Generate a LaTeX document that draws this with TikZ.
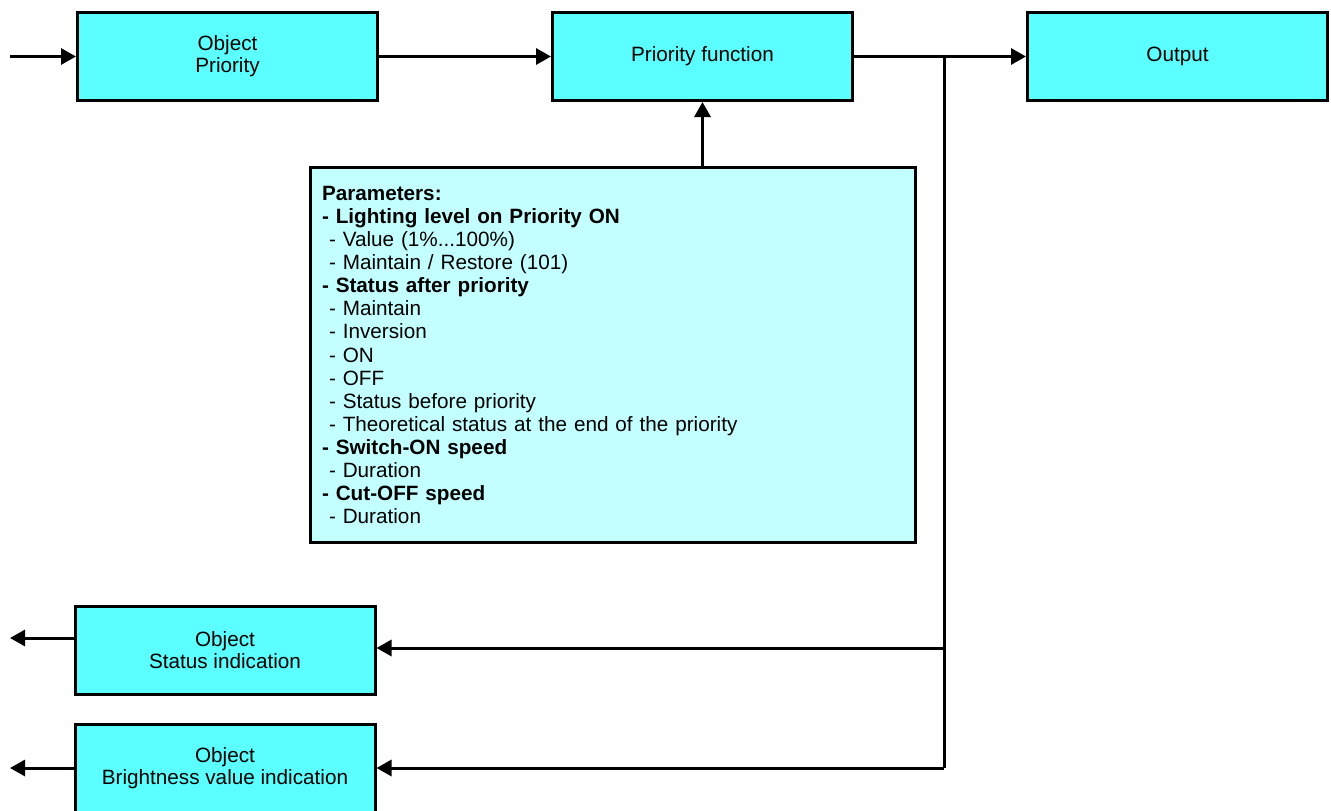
\documentclass[tikz,border=0pt]{standalone}
\usepackage{fontspec}
\setmainfont{Liberation Sans}
\usetikzlibrary{arrows.meta}
\definecolor{boxcyan}{RGB}{92,255,255}
\definecolor{paramcyan}{RGB}{196,255,255}
\begin{document}
\begin{tikzpicture}[x=1pt,y=-1pt,
  blk/.style={draw=black, line width=3pt, fill=boxcyan, minimum width=300pt, minimum height=88pt, inner sep=0pt, align=center, font=\fontsize{20.7}{22}\selectfont},
  conn/.style={line width=3pt},
  arr/.style={conn, -{Triangle[length=15pt,width=16pt]}}
]
\useasboundingbox (0,0) rectangle (1331,811);
\clip (0,0) rectangle (1331,811);
\node[blk] (op) at (227.5,56.5) {Object\\Priority};
\node[blk] (pf) at (702.5,56.5) {Priority function};
\node[blk] (out) at (1177.5,56.5) {Output};
\node[draw=black, line width=3pt, fill=paramcyan, minimum height=375pt, text width=581pt, inner xsep=12pt, inner ysep=0pt, align=left, font=\fontsize{20.7}{23.05}\selectfont] (pp) at (612.5,355)
{\textbf{Parameters:}\\
\textbf{- Lighting level on Priority ON}\\
\hspace*{7pt}- Value (1\%...100\%)\\
\hspace*{7pt}- Maintain / Restore (101)\\
\textbf{- Status after priority}\\
\hspace*{7pt}- Maintain\\
\hspace*{7pt}- Inversion\\
\hspace*{7pt}- ON\\
\hspace*{7pt}- OFF\\
\hspace*{7pt}- Status before priority\\
\hspace*{7pt}- Theoretical status at the end of the priority\\
\textbf{- Switch-ON speed}\\
\hspace*{7pt}- Duration\\
\textbf{- Cut-OFF speed}\\
\hspace*{7pt}- Duration};
\node[blk] (si) at (225,650) {Object\\Status indication};
\node[blk] (bv) at (225,768) {Object\\Brightness value indication};
\coordinate (in) at (10,56.5);
\coordinate (br) at (944,56.5);
\coordinate (b1) at (944,648);
\coordinate (b2) at (944,768);
\coordinate (o1) at (10,638);
\coordinate (o2) at (10,768);
\draw[arr] (in) -- (op.west);
\draw[arr] (op.east) -- (pf.west);
\draw[arr] (pf.east) -- (out.west);
\draw[conn] (br) -- (b2);
\draw[arr] (b1) -- (si.east |- b1);
\draw[arr] (b2) -- (bv.east |- b2);
\draw[arr] (si.west |- o1) -- (o1);
\draw[arr] (bv.west |- o2) -- (o2);
\draw[arr] (pf.south |- pp.north) -- (pf.south);
\end{tikzpicture}
\end{document}
